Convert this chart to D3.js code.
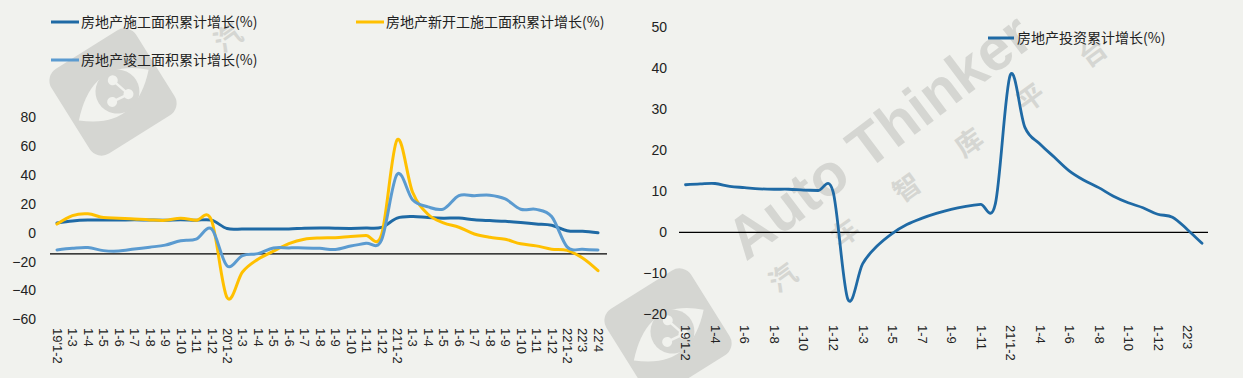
<!DOCTYPE html>
<html><head><meta charset="utf-8">
<script src="https://cdn.jsdelivr.net/npm/d3@7"></script>
<style>html,body{margin:0;padding:0;background:#f1f2ee;} svg{display:block;}</style>
</head><body>
<svg id="c" width="1243" height="378"></svg>
<script>
// ---------- data ----------
const categories = ["19'1-2","1-3","1-4","1-5","1-6","1-7","1-8","1-9","1-10","1-11","1-12",
  "20'1-2","1-3","1-4","1-5","1-6","1-7","1-8","1-9","1-10","1-11","1-12",
  "21'1-2","1-3","1-4","1-5","1-6","1-7","1-8","1-9","1-10","1-11","1-12",
  "22'1-2","22'3","22'4"];
const constructionArea = [6.8,8.2,8.8,8.8,8.8,9.0,8.8,8.7,9.0,8.7,8.7,
  2.9,2.6,2.5,2.6,2.6,3.1,3.3,3.1,3.0,3.2,3.7,
  10.1,11.2,10.5,10.1,10.2,9.0,8.4,7.9,7.1,6.1,5.2,
  1.4,1.0,0.0];
const newStarts = [6.0,11.9,13.1,10.5,10.1,9.5,8.9,8.6,10.0,8.6,8.5,
  -44.9,-27.2,-18.4,-12.8,-7.6,-4.5,-3.6,-3.4,-2.6,-2.0,-1.2,
  64.3,28.2,12.8,6.9,3.8,-0.9,-3.2,-4.5,-7.7,-9.1,-11.4,
  -12.2,-17.5,-26.3];
const completions = [-11.9,-10.8,-10.3,-12.4,-12.7,-11.3,-10.0,-8.6,-5.5,-4.5,2.6,
  -22.9,-15.8,-14.5,-10.6,-10.5,-10.5,-10.8,-11.6,-9.2,-7.3,-4.9,
  40.4,22.9,17.9,16.4,25.7,25.7,26.0,23.4,16.3,16.2,11.2,
  -9.8,-11.5,-11.9];
const investment = [11.6,11.8,11.9,11.2,10.9,10.6,10.5,10.5,10.3,10.2,9.9,
  -16.3,-7.7,-3.3,-0.3,1.9,3.4,4.6,5.6,6.3,6.8,7.0,
  38.3,25.6,21.6,18.3,15.0,12.7,10.9,8.8,7.2,6.0,4.4,
  3.7,0.7,-2.7];
const leftYTicks = [-60,-40,-20,0,20,40,60,80];
const rightYTicks = [-20,-10,0,10,20,30,40,50];
const leftNames = ["房地产施工面积累计增长(%)","房地产新开工施工面积累计增长(%)","房地产竣工面积累计增长(%)"];
const rightName = "房地产投资累计增长(%)";
const watermarkLatin = "Auto Thinker";
const watermarkChars = ["汽","车","智","库","平","台"];

// ---------- style ----------
const BG = "#f1f2ee", WM = "#d5d6d2";
const C_DARK = "#1f6aa5", C_YEL = "#ffc000", C_LIGHT = "#5b9bd0";
const NUM_FONT = "'Liberation Sans', Arial, sans-serif";
const CJK_FONT = "'Noto Sans CJK SC', sans-serif";

const svg = d3.select("#c");
svg.append("rect").attr("width",1243).attr("height",378).attr("fill",BG);

// ---------- watermark ----------
function watermark(dx, dy, full) {
  const g = svg.append("g").attr("transform", `translate(${dx},${dy})`);
  const lg = g.append("g").attr("transform","translate(668,332) rotate(-32)");
  lg.append("rect").attr("x",-50).attr("y",-50).attr("width",100).attr("height",100).attr("rx",14).attr("fill",WM);
  lg.append("path").attr("d","M-44,6 Q0,-40 42,0 Q0,44 -44,6 Z").attr("fill",BG);
  lg.append("circle").attr("cx",4).attr("cy",2).attr("r",22).attr("fill",WM);
  const pts = [[-6,8],[12,10],[6,-10]];
  lg.append("path").attr("d",`M${pts[0]}L${pts[1]}L${pts[2]}`).attr("fill","none").attr("stroke",BG).attr("stroke-width",2.5);
  pts.forEach(p=>lg.append("circle").attr("cx",p[0]).attr("cy",p[1]).attr("r",5).attr("fill",BG));
  if (full) {
    g.append("text").attr("transform","translate(746,262) rotate(-37)")
      .attr("font-family",NUM_FONT).attr("font-weight","bold").attr("font-size",59)
      .attr("fill",WM).text(watermarkLatin);
  }
  const count = full ? watermarkChars.length : 1;
  watermarkChars.slice(0,count).forEach((ch,i)=>{
    g.append("text").attr("transform",`translate(${783+i*62},${278-i*45}) rotate(-36)`)
      .attr("font-family",CJK_FONT).attr("font-weight","bold").attr("font-size",27)
      .attr("text-anchor","middle").attr("dy","0.35em").attr("fill",WM).text(ch);
  });
}
watermark(0,0,true);
watermark(-555,-240,false);

// ---------- left chart ----------
const n = categories.length;
const xL = d3.scalePoint().domain(d3.range(n)).range([57, 598]);
const yL = d3.scaleLinear().domain([-60,80]).range([319.3,117.3]);

const yAxisL = svg.append("g").attr("transform","translate(36,0)")
  .call(d3.axisLeft(yL).tickValues(leftYTicks).tickSize(0).tickPadding(0));
yAxisL.select(".domain").remove();
yAxisL.attr("font-family",NUM_FONT).attr("font-size",14);
yAxisL.selectAll("text").attr("fill","#222");

const xAxisL = svg.append("g").attr("transform","translate(0,326)")
  .call(d3.axisBottom(xL).tickSize(0).tickFormat(i=>categories[i]));
xAxisL.select(".domain").remove();
xAxisL.attr("font-family",NUM_FONT).attr("font-size",13);
xAxisL.selectAll("text").attr("transform","rotate(90)").attr("x",2).attr("y",0)
  .attr("dy","0.35em").attr("text-anchor","start").attr("fill","#222");

svg.append("line").attr("x1",50).attr("x2",607).attr("y1",yL(-14.6)).attr("y2",yL(-14.6))
  .attr("stroke","#000").attr("stroke-width",1.2);

const curve = d3.curveCatmullRom.alpha(0);
const lineL = d3.line().x((d,i)=>xL(i)).y(d=>yL(d)).curve(curve);
[[constructionArea,C_DARK],[newStarts,C_YEL],[completions,C_LIGHT]].forEach(([arr,col])=>{
  svg.append("path").datum(arr).attr("d",lineL).attr("fill","none")
    .attr("stroke",col).attr("stroke-width",3).attr("stroke-linejoin","round").attr("stroke-linecap","round");
});

const legL = [
  {x:51, y:22, col:C_DARK, name:leftNames[0]},
  {x:356, y:22, col:C_YEL, name:leftNames[1]},
  {x:51, y:60, col:C_LIGHT, name:leftNames[2]}
];
legL.forEach(d=>{
  svg.append("line").attr("x1",d.x).attr("x2",d.x+28).attr("y1",d.y).attr("y2",d.y)
    .attr("stroke",d.col).attr("stroke-width",3);
  svg.append("text").attr("x",d.x+30).attr("y",d.y).attr("dy","0.35em")
    .attr("font-family",CJK_FONT).attr("font-size",14).attr("fill","#222").text(d.name);
});

// ---------- right chart ----------
const xR = d3.scalePoint().domain(d3.range(n)).range([685.5, 1202]);
const yR = d3.scaleLinear().domain([-20,50]).range([314.3,27.3]);

const yAxisR = svg.append("g").attr("transform","translate(667,0)")
  .call(d3.axisLeft(yR).tickValues(rightYTicks).tickSize(0).tickPadding(0));
yAxisR.select(".domain").remove();
yAxisR.attr("font-family",NUM_FONT).attr("font-size",14);
yAxisR.selectAll("text").attr("fill","#222");

const xAxisR = svg.append("g").attr("transform","translate(0,323)")
  .call(d3.axisBottom(xR).tickValues(d3.range(0,n-1,2)).tickSize(0).tickFormat(i=>categories[i]));
xAxisR.select(".domain").remove();
xAxisR.attr("font-family",NUM_FONT).attr("font-size",13);
xAxisR.selectAll("text").attr("transform","rotate(90)").attr("x",2).attr("y",0)
  .attr("dy","0.35em").attr("text-anchor","start").attr("fill","#222");

svg.append("line").attr("x1",679).attr("x2",1208).attr("y1",yR(0)).attr("y2",yR(0))
  .attr("stroke","#000").attr("stroke-width",1.2);

const lineR = d3.line().x((d,i)=>xR(i)).y(d=>yR(d)).curve(curve);
svg.append("path").datum(investment).attr("d",lineR).attr("fill","none")
  .attr("stroke",C_DARK).attr("stroke-width",2.8).attr("stroke-linejoin","round").attr("stroke-linecap","round");

svg.append("line").attr("x1",988).attr("x2",1014).attr("y1",38).attr("y2",38)
  .attr("stroke",C_DARK).attr("stroke-width",3);
svg.append("text").attr("x",1017).attr("y",38).attr("dy","0.35em")
  .attr("font-family",CJK_FONT).attr("font-size",14).attr("fill","#222").text(rightName);
</script>
</body></html>
